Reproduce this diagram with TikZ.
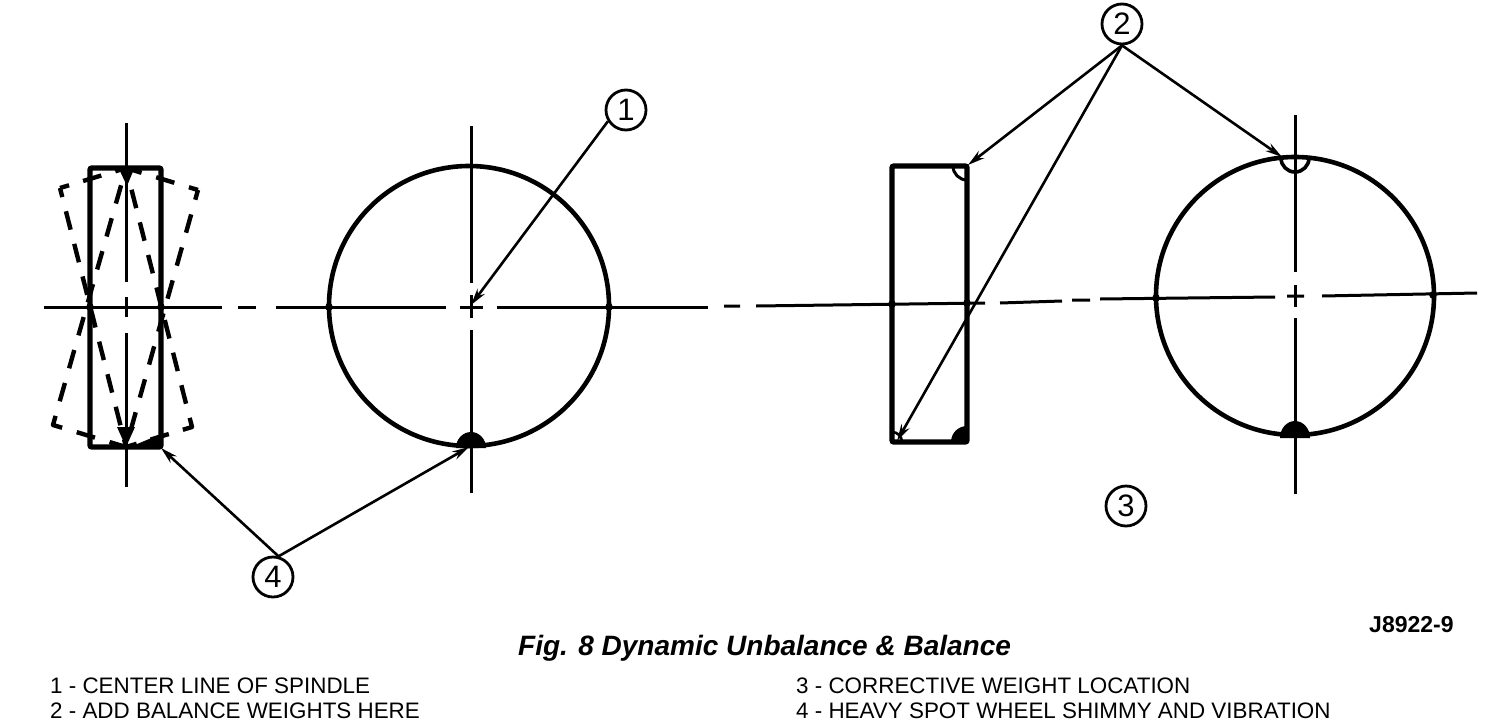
\documentclass[tikz,border=0pt]{standalone}
\usepackage{fontspec}
\setmainfont{Liberation Sans}
\usetikzlibrary{arrows.meta}
\tikzset{
  wheel/.style={line width=4.6pt,line join=round},
  sideview/.style={line width=5.4pt,rounded corners=2pt},
  axis/.style={line width=3pt},
  swing/.style={line width=4.4pt,line join=round,dash phase=9.5pt},
  leader/.style={line width=2.6pt,-{Stealth[length=17pt,width=9pt]}},
  callout/.style={draw,circle,line width=2.8pt,minimum size=40pt,inner sep=0pt,font=\fontsize{31}{31}\selectfont},
  legend/.style={anchor=base west,inner sep=0pt,font=\fontsize{22.4}{22.4}\selectfont},
}
\begin{document}
\begin{tikzpicture}[x=1pt,y=-1pt]
    \useasboundingbox (0,0) rectangle (1504,726);
    % axis of the unbalanced wheel
    \draw[axis] (44,307) -- (222,307) (238,307) -- (256,307) (276,307) -- (446,307)
        (460,307) -- (483,307) (497,307) -- (708,307);
    \draw[axis] (724,306) -- (740,306) (756,306) -- (985,303);
    \draw[axis] (1000,303) -- (1062,301) (1072,300) -- (1090,300) (1100,299) -- (1275,297)
        (1287,296) -- (1304,296) (1322,296) -- (1477,293);
    % vertical axes
    \draw[axis] (126,123) -- (126,282) (126,297) -- (126,317) (126,333) -- (126,487);
    \draw[axis] (471,126) -- (471,283) (471,295) -- (471,318) (471,330) -- (471,493);
    \draw[axis] (1295,115) -- (1295,272) (1295,285) -- (1295,307) (1295,318) -- (1295,494);
    % left wheel, side view
    \draw[swing,dash pattern=on 19pt off 14.63pt] (60,188) -- (126,168) -- (192,427) -- (126,447) -- cycle;
    \draw[swing,dash pattern=on 19pt off 15.25pt] (198,190) -- (126,168) -- (53,425) -- (126,447) -- cycle;
    \draw[sideview] (90,168) rectangle (161,447);
    \fill (119,169) -- (134,169) -- (127,186) -- cycle;
    \fill (117,427) -- (135,427) -- (126,447) -- cycle;
    \fill (161,447) -- (161,434) -- (130,447) -- cycle;
    % left wheel, front view
    \draw[wheel] (469,306) circle (140);
    \fill (456,448) arc[start angle=180,end angle=360,x radius=15,y radius=16] -- cycle;
    % right wheel, side view
    \draw[sideview] (892,166) rectangle (967,442);
    \draw[line width=3pt] (953,166) arc[start angle=180,end angle=90,radius=14];
    \fill (967,442) -- (951,442) arc[start angle=180,end angle=270,radius=16] -- cycle;
    \draw[line width=2.6pt] (892,432) arc[start angle=270,end angle=360,radius=10];
    % right wheel, front view
    \draw[wheel] (1295,296) circle (139);
    \draw[line width=3.6pt] (1281,158) arc[start angle=180,end angle=0,radius=14];
    \fill (1280,438) arc[start angle=180,end angle=360,x radius=15,y radius=17] -- cycle;
    % joints on the axis
    \foreach \jx/\jy in {90/307,161/307,329/307,609/307,892/304,967/303,1156/298,1433/295}
        \fill (\jx,\jy) circle (3.8);
    % callouts
    \node[callout] (one) at (626,110) {1};
    \node[callout] (two) at (1122,24) {2};
    \node[callout] (three) at (1126,506) {3};
    \node[callout] (four) at (273,577) {4};
    \coordinate (spindle) at (471,305);
    \coordinate (topweight) at (968,165);
    \coordinate (lowweight) at (897,441);
    \coordinate (rimweight) at (1282,157);
    \coordinate (sidespot) at (161,448);
    \coordinate (rimspot) at (469,447);
    \draw[leader] (one.212) -- (spindle);
    \draw[leader] (two.south) -- (topweight);
    \draw[leader] (two.south) -- (lowweight);
    \draw[leader] (two.south) -- (rimweight);
    \draw[leader] (four.75) -- (sidespot);
    \draw[leader] (four.75) -- (rimspot);
    % caption and legend
    \node[anchor=base west,inner sep=0pt,font=\fontsize{28}{28}\selectfont\bfseries\itshape] (title) at (518,655) {Fig. 8 Dynamic Unbalance \& Balance};
    \node[anchor=base west,inner sep=0pt,font=\fontsize{23}{23}\selectfont\bfseries] (code) at (1369,632) {J8922-9};
    \node[legend] (itema) at (50,693) {1 - CENTER LINE OF SPINDLE};
    \node[legend] (itemb) at (50,718) {2 - ADD BALANCE WEIGHTS HERE};
    \node[legend] (itemc) at (796,693) {3 - CORRECTIVE WEIGHT LOCATION};
    \node[legend] (itemd) at (796,718) {4 - HEAVY SPOT WHEEL SHIMMY AND VIBRATION};
\end{tikzpicture}
\end{document}
